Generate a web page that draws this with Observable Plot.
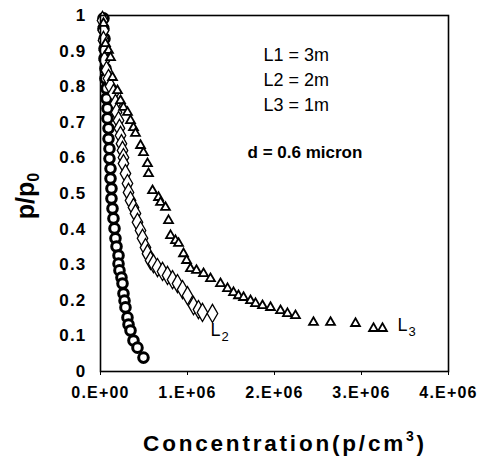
<!DOCTYPE html>
<html><head><meta charset="utf-8">
<script src="https://cdn.jsdelivr.net/npm/d3@7"></script>
<script src="https://cdn.jsdelivr.net/npm/@observablehq/plot@0.6"></script>
<style>
body{margin:0;background:#fff}
#chart svg{font-family:Arial,'Liberation Sans',sans-serif}
g[aria-label="x-axis tick label"] text, g[aria-label="y-axis tick label"] text{letter-spacing:1.2px}
</style>
</head><body><div id="chart"></div>
<script>
// concentration in millions of p/cm3, ratio p/p0
const l1Conc = [0.034,0.034,0.046,0.046,0.046,0.057,0.057,0.069,0.069,0.080,0.080,0.092,0.092,0.103,0.103,0.115,0.115,0.126,0.126,0.138,0.149,0.161,0.172,0.184,0.207,0.207,0.218,0.241,0.253,0.264,0.276,0.287,0.310,0.322,0.345,0.379,0.425,0.494];
const l1Ratio = [0.992,0.963,0.935,0.907,0.879,0.851,0.823,0.795,0.767,0.739,0.711,0.683,0.654,0.626,0.598,0.570,0.542,0.514,0.486,0.458,0.430,0.402,0.374,0.351,0.326,0.303,0.284,0.264,0.247,0.219,0.199,0.180,0.152,0.132,0.115,0.087,0.067,0.039];
const l2Conc = [0.023,0.034,0.034,0.046,0.046,0.069,0.092,0.115,0.149,0.172,0.184,0.207,0.218,0.230,0.241,0.253,0.264,0.264,0.287,0.310,0.322,0.345,0.379,0.402,0.425,0.460,0.483,0.517,0.540,0.575,0.609,0.655,0.713,0.770,0.828,0.885,0.943,1.000,1.069,1.126,1.172,1.287];
const l2Ratio = [0.986,0.958,0.930,0.902,0.874,0.846,0.823,0.801,0.781,0.753,0.728,0.705,0.683,0.663,0.640,0.621,0.601,0.584,0.556,0.528,0.503,0.480,0.461,0.444,0.419,0.396,0.374,0.348,0.331,0.312,0.303,0.292,0.281,0.270,0.258,0.247,0.230,0.213,0.185,0.174,0.166,0.163];
const l3Conc = [0.034,0.057,0.092,0.115,0.138,0.195,0.230,0.264,0.310,0.345,0.379,0.402,0.460,0.494,0.540,0.552,0.598,0.667,0.690,0.747,0.782,0.805,0.862,0.897,0.954,0.989,1.034,1.103,1.184,1.264,1.379,1.460,1.529,1.586,1.644,1.724,1.782,1.862,1.954,2.069,2.149,2.241,2.448,2.644,2.931,3.138,3.241];
const l3Ratio = [0.978,0.921,0.902,0.882,0.826,0.789,0.761,0.742,0.728,0.705,0.685,0.669,0.635,0.615,0.584,0.556,0.508,0.489,0.475,0.461,0.424,0.382,0.368,0.360,0.331,0.312,0.289,0.284,0.275,0.261,0.247,0.233,0.222,0.213,0.208,0.199,0.191,0.185,0.180,0.171,0.163,0.157,0.138,0.138,0.135,0.121,0.121];

const xTicks = [0,1e6,2e6,3e6,4e6];
const xTickLabels = ["0.E+00","1.E+06","2.E+06","3.E+06","4.E+06"];
const yTicks = [0,0.1,0.2,0.3,0.4,0.5,0.6,0.7,0.8,0.9,1];
const yTickLabels = ["0","0.1","0.2","0.3","0.4","0.5","0.6","0.7","0.8","0.9","1"];
const legendLines = ["L1 = 3m","L2 = 2m","L3 = 1m"];
const noteText = "d = 0.6 micron";
const curveNames = ["L","L"];
const curveSubs = ["2","3"];
const curveAnchorConc = [1.264,3.414];
const curveAnchorRatio = [0.115,0.129];
const xTitle = ["Concentration(p/cm","3",")"];
const yTitle = ["p/p","0"];

const rows = (xs, ys) => xs.map((x,i)=>({x:x*1e6, y:ys[i]}));
const d1 = rows(l1Conc,l1Ratio), d2 = rows(l2Conc,l2Ratio), d3 = rows(l3Conc,l3Ratio);

const plot = Plot.plot({
  width:486, height:466,
  marginLeft:100, marginRight:38, marginTop:15, marginBottom:95,
  x:{domain:[0,4e6]}, y:{domain:[0,1]},
  style:{fontFamily:"Arial, 'Liberation Sans', sans-serif", background:"#fff", color:"#000"},
  marks:[
    Plot.axisX(xTicks,{tickSize:4, tickPadding:11, tickFormat:d=>xTickLabels[xTicks.indexOf(d)], fontSize:16, fontWeight:"bold", label:null}),
    Plot.axisY(yTicks,{tickSize:0, tickPadding:14, tickFormat:d=>yTickLabels[yTicks.indexOf(d)], fontSize:17, fontWeight:"bold", label:null}),
    Plot.dot(d1,{x:"x",y:"y",symbol:"circle",r:4.8,fill:"#fff",stroke:"#000",strokeWidth:3}),
    Plot.dot(d2,{x:"x",y:"y",symbol:"diamond",r:5.5,fill:"#fff",stroke:"#000",strokeWidth:1.3}),
    Plot.dot(d3,{x:"x",y:"y",symbol:"triangle",r:3.3,fill:"#fff",stroke:"#000",strokeWidth:1.8}),
    Plot.frame({stroke:"#000",strokeWidth:1.6}),
    Plot.text(legendLines,{x:()=>1.874e6, y:(d,i)=>0.888-i*0.0705, text:d=>d, textAnchor:"start", fontSize:18}),
    Plot.text([noteText],{x:()=>1.69e6, y:()=>0.615, text:d=>d, textAnchor:"start", fontSize:17, fontWeight:"bold"}),
    Plot.text(curveNames,{x:(d,i)=>curveAnchorConc[i]*1e6, y:(d,i)=>curveAnchorRatio[i], text:d=>d, textAnchor:"start", fontSize:18, fill:"#000"}),
    Plot.text(curveSubs,{x:(d,i)=>curveAnchorConc[i]*1e6, y:(d,i)=>curveAnchorRatio[i], text:d=>d, textAnchor:"start", fontSize:13, dx:11, dy:6, fill:"#000"})
  ]
});
document.getElementById("chart").appendChild(plot);

const NS = "http://www.w3.org/2000/svg";
function el(parent, tag, attrs, txt){
  const e = document.createElementNS(NS, tag);
  for (const k in attrs) e.setAttribute(k, attrs[k]);
  if (txt != null) e.textContent = txt;
  parent.appendChild(e);
  return e;
}
const yt = el(plot, "text", {transform:"translate(34,196) rotate(-90)", "text-anchor":"middle", "font-size":25, "font-weight":"bold", fill:"#000"});
el(yt, "tspan", {}, yTitle[0]);
el(yt, "tspan", {"font-size":16, dy:5}, yTitle[1]);
const xt = el(plot, "text", {x:285, y:451, "text-anchor":"middle", "font-size":22.5, "font-weight":"bold", fill:"#000", "letter-spacing":"2.8px"});
el(xt, "tspan", {}, xTitle[0]);
el(xt, "tspan", {"font-size":14, dy:-10}, xTitle[1]);
el(xt, "tspan", {dy:10}, xTitle[2]);
</script>
</body></html>
